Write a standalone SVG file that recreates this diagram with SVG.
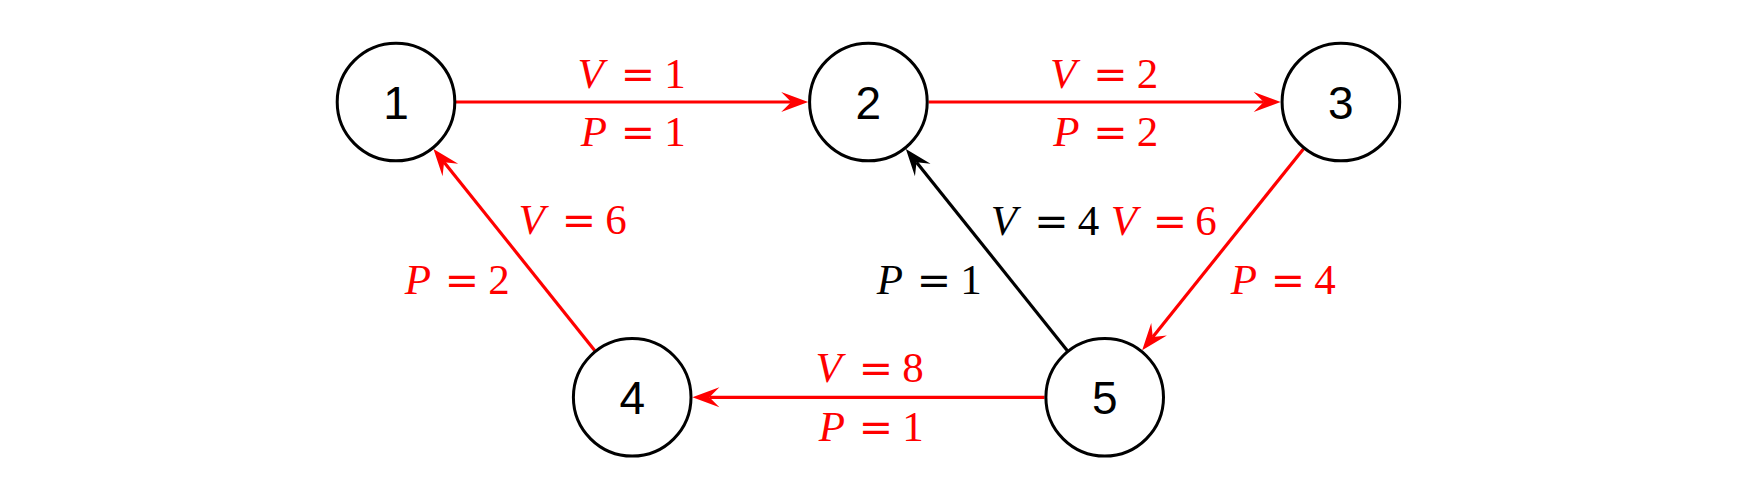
<svg xmlns="http://www.w3.org/2000/svg" width="1737" height="500" viewBox="0 0 1737 500">
<style>
.node circle{fill:#fff;stroke:#000;stroke-width:3}
.node text{font-family:"Liberation Sans","DejaVu Sans",sans-serif;font-size:46px;fill:#000;text-anchor:middle}
.edge{fill:none;stroke-width:3.2}
.red{stroke:#ff0000}
.blk{stroke:#000}
.lbl{font-family:"Liberation Serif","DejaVu Serif",serif;font-size:43px;text-anchor:middle}
.lbl .it{font-style:italic}
.lbl .eq{font-family:"DejaVu Serif","Liberation Serif",serif;font-size:41px}
.lr{fill:#ff0000}
.lk{fill:#000}
</style>
<defs>
<marker id="ar" markerUnits="userSpaceOnUse" orient="auto" refX="0" refY="0" markerWidth="30" markerHeight="24" viewBox="-12 -12 30 24" overflow="visible">
<path d="M17,0 L-10,-10 L0,0 L-10,10 Z" fill="#ff0000"/>
</marker>
<marker id="ak" markerUnits="userSpaceOnUse" orient="auto" refX="0" refY="0" markerWidth="30" markerHeight="24" viewBox="-12 -12 30 24" overflow="visible">
<path d="M17,0 L-10,-10 L0,0 L-10,10 Z" fill="#000"/>
</marker>
</defs>
<rect width="1737" height="500" fill="#fff"/>
<g id="connectors">
<path id="e12" class="edge red" d="M456,102 L791.2,102" marker-end="url(#ar)"/>
<path id="e23" class="edge red" d="M928.6,102 L1263.7,102" marker-end="url(#ar)"/>
<path id="e54" class="edge red" d="M1044.5,397.3 L709.4,397.3" marker-end="url(#ar)"/>
<path id="e41" class="edge red" d="M594.7,350.4 L444.1,162.2" marker-end="url(#ar)"/>
<path id="e52" class="edge blk" d="M1067.2,350.4 L916.5,162.2" marker-end="url(#ak)"/>
<path id="e35" class="edge red" d="M1303.4,148.9 L1152.8,337.1" marker-end="url(#ar)"/>
</g>
<g id="labels">
<text class="lbl lr" y="87.5"><tspan class="it" x="590.6">V</tspan><tspan class="eq" x="638">=</tspan><tspan x="675">1</tspan></text>
<text class="lbl lr" y="145.5"><tspan class="it" x="594">P</tspan><tspan class="eq" x="638">=</tspan><tspan x="675">1</tspan></text>
<text class="lbl lr" y="87.5"><tspan class="it" x="1063.1">V</tspan><tspan class="eq" x="1110.5">=</tspan><tspan x="1147.5">2</tspan></text>
<text class="lbl lr" y="145.5"><tspan class="it" x="1066.5">P</tspan><tspan class="eq" x="1110.5">=</tspan><tspan x="1147.5">2</tspan></text>
<text class="lbl lr" y="234"><tspan class="it" x="531.6">V</tspan><tspan class="eq" x="579">=</tspan><tspan x="616">6</tspan></text>
<text class="lbl lr" y="294"><tspan class="it" x="418">P</tspan><tspan class="eq" x="462">=</tspan><tspan x="499">2</tspan></text>
<text class="lbl lk" y="234.5"><tspan class="it" x="1004">V</tspan><tspan class="eq" x="1051.5">=</tspan><tspan x="1088.5">4</tspan></text>
<text class="lbl lr" y="234.5"><tspan class="it" x="1124">V</tspan><tspan class="eq" x="1170">=</tspan><tspan x="1206">6</tspan></text>
<text class="lbl lk" y="294"><tspan class="it" x="890">P</tspan><tspan class="eq" x="934">=</tspan><tspan x="971">1</tspan></text>
<text class="lbl lr" y="294"><tspan class="it" x="1244">P</tspan><tspan class="eq" x="1288">=</tspan><tspan x="1325">4</tspan></text>
<text class="lbl lr" y="381.5"><tspan class="it" x="828.6">V</tspan><tspan class="eq" x="876">=</tspan><tspan x="913">8</tspan></text>
<text class="lbl lr" y="440.5"><tspan class="it" x="832">P</tspan><tspan class="eq" x="876">=</tspan><tspan x="913">1</tspan></text>
</g>
<g id="n1" class="node"><circle cx="396" cy="102" r="58.8"/><text x="396" y="119">1</text></g>
<g id="n2" class="node"><circle cx="868.4" cy="102" r="58.8"/><text x="868.4" y="119">2</text></g>
<g id="n3" class="node"><circle cx="1340.9" cy="102" r="58.8"/><text x="1340.9" y="119">3</text></g>
<g id="n4" class="node"><circle cx="632.2" cy="397.3" r="58.8"/><text x="632.2" y="414.3">4</text></g>
<g id="n5" class="node"><circle cx="1104.7" cy="397.3" r="58.8"/><text x="1104.7" y="414.3">5</text></g>
</svg>
